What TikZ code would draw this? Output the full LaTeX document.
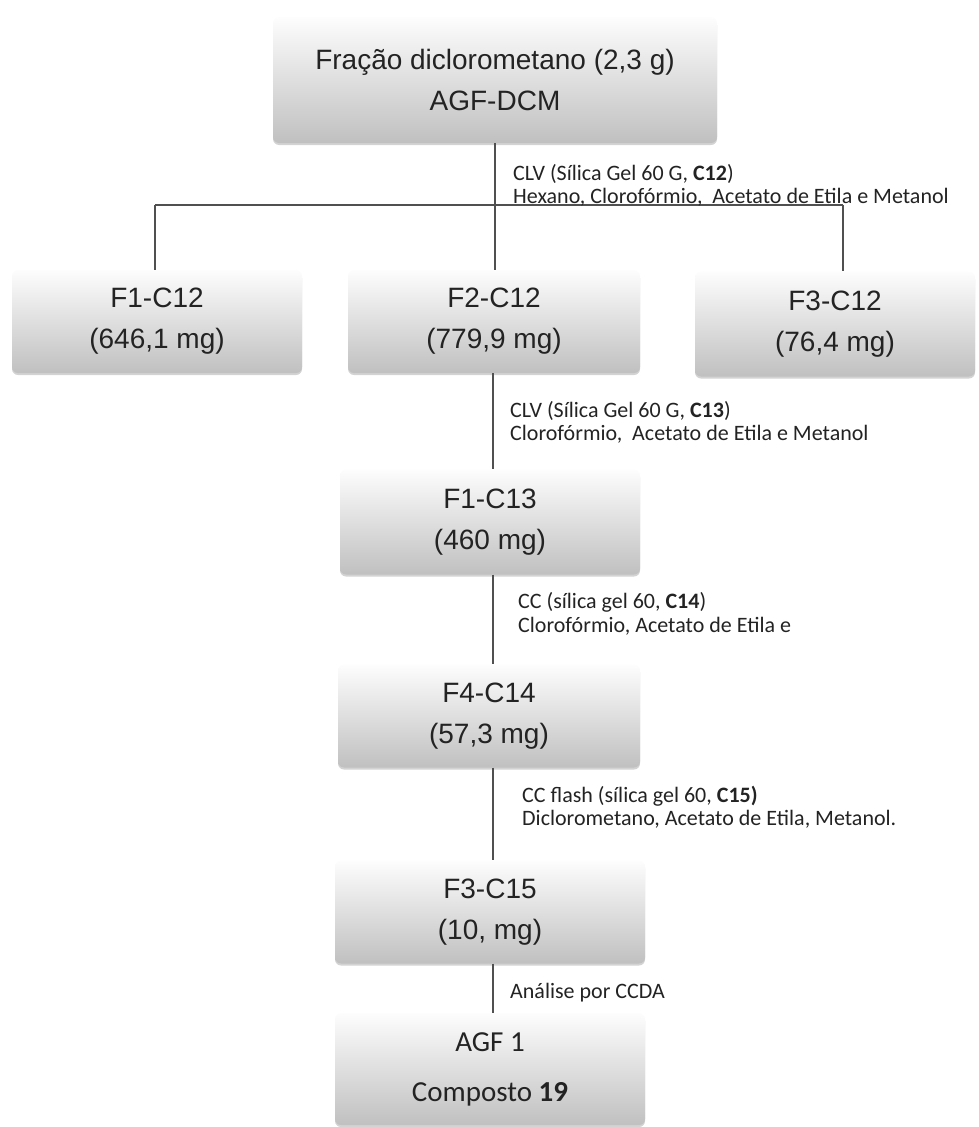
\documentclass[tikz,border=0pt]{standalone}
\usepackage{fontspec}
\setmainfont{Liberation Sans}
\newfontfamily\calibri{Carlito}
\usetikzlibrary{shadows}
\definecolor{boxtop}{RGB}{253,253,253}
\definecolor{boxbot}{RGB}{192,192,192}
\definecolor{txt}{RGB}{35,35,35}
\definecolor{linec}{RGB}{80,80,80}
\begin{document}
\begin{tikzpicture}[x=1pt,y=-1pt,
  box/.style={rectangle, rounded corners=6pt, top color=boxtop, bottom color=boxbot,
    drop shadow={opacity=0.35, shadow xshift=0pt, shadow yshift=-2pt},
    align=center, text=txt, font=\fontsize{28}{41}\selectfont, inner sep=0pt},
  lab/.style={anchor=base west, font=\calibri\fontsize{22}{24}\selectfont, text=txt, inner sep=0pt},
  conn/.style={draw=linec, line width=1.6pt}]
\useasboundingbox (0,0) rectangle (978,1127);

\node[box, minimum width=444pt, minimum height=126pt] (top) at (495,80) {Fração diclorometano (2,3 g)\\AGF-DCM};
\node[box, minimum width=290pt, minimum height=103pt] (f1) at (157,321.5) {F1-C12\\(646,1 mg)};
\node[box, minimum width=292pt, minimum height=103pt] (f2) at (494,321.5) {F2-C12\\(779,9 mg)};
\node[box, minimum width=280pt, minimum height=105pt] (f3) at (835,324) {F3-C12\\(76,4 mg)};
\node[box, minimum width=300pt, minimum height=105pt] (f1c13) at (490,522) {F1-C13\\(460 mg)};
\node[box, minimum width=302pt, minimum height=103pt] (f4c14) at (489,716) {F4-C14\\(57,3 mg)};
\node[box, minimum width=310pt, minimum height=103pt] (f3c15) at (490,912) {F3-C15\\(10, mg)};
\node[box, minimum width=310pt, minimum height=112pt, font=\calibri\fontsize{29}{50}\selectfont] (agf) at (490,1069) {AGF 1\\Composto \textbf{19}};

\coordinate (jL) at (155,205);
\coordinate (jR) at (843,205);
\draw[conn] (top.south) -- (top.south |- f2.north);
\draw[conn] (jL) -- (jR);
\draw[conn] (jL) -- (jL |- f1.north);
\draw[conn] (jR) -- (jR |- f3.north);
\coordinate (c2) at (493,0);
\draw[conn] (c2 |- f2.south) -- (c2 |- f1c13.north);
\draw[conn] (c2 |- f1c13.south) -- (c2 |- f4c14.north);
\draw[conn] (c2 |- f4c14.south) -- (c2 |- f3c15.north);
\draw[conn] (c2 |- f3c15.south) -- (c2 |- agf.north);

\node[lab] (l1a) at (513,180) {CLV (Sílica Gel 60 G, \textbf{C12})};
\node[lab] (l1b) at (513,203) {Hexano, Clorofórmio,\ \ Acetato de Etila e Metanol};
\node[lab] (l2a) at (510,417) {CLV (Sílica Gel 60 G, \textbf{C13})};
\node[lab] (l2b) at (510,440) {Clorofórmio,\ \ Acetato de Etila e Metanol};
\node[lab] (l3a) at (518,608) {CC (sílica gel 60, \textbf{C14})};
\node[lab] (l3b) at (518,632) {Clorofórmio, Acetato de Etila e};
\node[lab] (l4a) at (522,802) {CC flash (sílica gel 60, \textbf{C15)}};
\node[lab] (l4b) at (522,825) {Diclorometano, Acetato de Etila, Metanol.};
\node[lab] (l5) at (510,998) {Análise por CCDA};
\end{tikzpicture}
\end{document}
